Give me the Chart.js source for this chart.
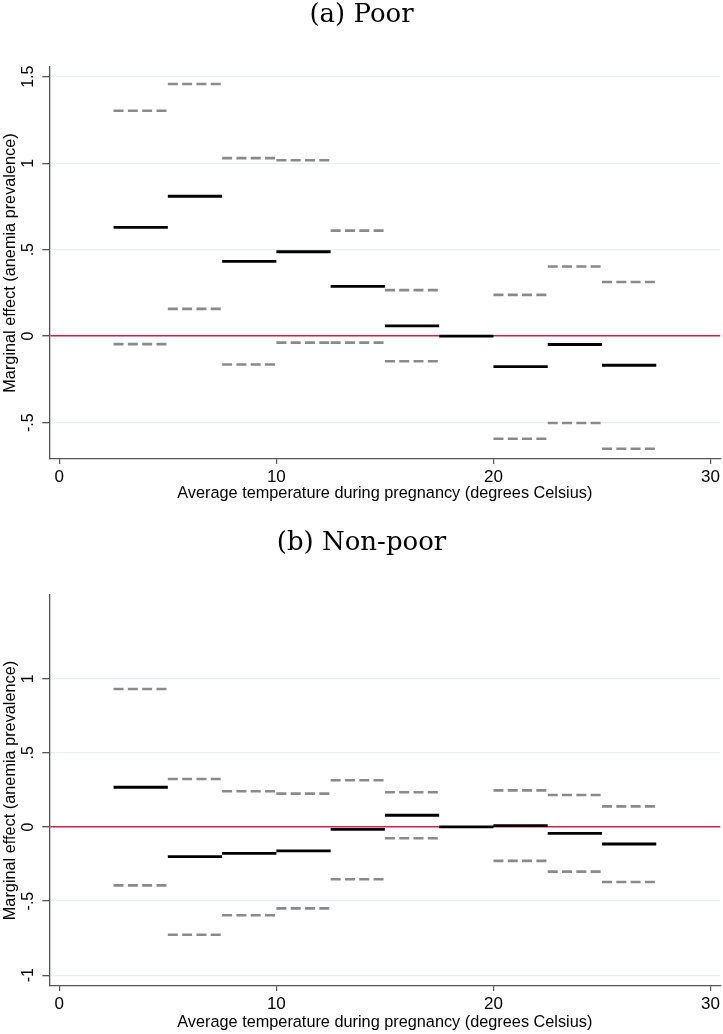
<!DOCTYPE html>
<html>
<head>
<meta charset="utf-8">
<script src="https://cdn.jsdelivr.net/npm/chart.js@4"></script>
<style>
  html, body { margin: 0; padding: 0; background: #fff; }
  canvas { display: block; }
</style>
</head>
<body>
<canvas id="chartPoor" width="723" height="528"></canvas>
<canvas id="chartNonpoor" width="723" height="506"></canvas>
<script>
/* ==== Data ==== */
// temperature bins (degrees Celsius), 17.5-20 is the reference bin
const binEdges = [2.5, 5, 7.5, 10, 12.5, 15, 17.5, 20, 22.5, 25, 27.5];

const poorEst   = [0.629, 0.809, 0.432, 0.488, 0.288, 0.060, 0, -0.176, -0.048, -0.168];
const poorHigh  = [1.303, 1.458, 1.029, 1.017, 0.610, 0.266, null, 0.239, 0.403, 0.313];
const poorLow   = [-0.046, 0.158, -0.164, -0.037, -0.037, -0.145, null, -0.593, -0.502, -0.651];

const nonpoorEst  = [0.268, -0.200, -0.178, -0.162, -0.016, 0.079, 0, 0.009, -0.043, -0.115];
const nonpoorHigh = [0.931, 0.324, 0.241, 0.225, 0.315, 0.234, null, 0.247, 0.216, 0.139];
const nonpoorLow  = [-0.394, -0.727, -0.596, -0.549, -0.353, -0.076, null, -0.229, -0.301, -0.371];

const xTicks = [0, 10, 20, 30];
const poorYTicks = [-0.5, 0, 0.5, 1, 1.5];
const nonpoorYTicks = [-1, -0.5, 0, 0.5, 1];

/* ==== Helpers ==== */
const SANS = '"Liberation Sans", Arial, Helvetica, sans-serif';

function fmtY(v){ return String(v).replace('0.', '.'); }

// each bin becomes a flat step, gaps between bins via null
function steps(vals){
  const pts = [];
  vals.forEach((v, i) => {
    pts.push({x: binEdges[i], y: v}, {x: binEdges[i+1], y: v}, {x: binEdges[i+1], y: null});
  });
  return pts;
}

// Stata-style rotated y tick labels
const yLabels = {
  id: 'yLabels',
  afterDraw(chart){
    const s = chart.scales.y, ctx = chart.ctx;
    ctx.save();
    ctx.font = '16px ' + SANS;
    ctx.fillStyle = '#000';
    ctx.textAlign = 'center';
    ctx.textBaseline = 'middle';
    s.ticks.forEach(t => {
      ctx.save();
      ctx.translate(s.right - 21, s.getPixelForValue(t.value));
      ctx.rotate(-Math.PI / 2);
      ctx.fillText(fmtY(t.value), 0, 0);
      ctx.restore();
    });
    ctx.restore();
  }
};

function drawPanel(id, title, est, high, low, yTicks, yMin, yMax, xHeight, xTitlePad){
  const ctx = document.getElementById(id).getContext('2d');
  return new Chart(ctx, {
    type: 'line',
    data: {
      datasets: [
        { data: steps(est), borderColor: '#000', borderWidth: 2.8 },
        { data: steps(high), borderColor: '#8a8a8a', borderWidth: 2.6, borderDash: [10, 4.3] },
        { data: steps(low), borderColor: '#8a8a8a', borderWidth: 2.6, borderDash: [10, 4.3] }
      ].map(d => Object.assign(d, { pointRadius: 0, spanGaps: false, tension: 0, borderCapStyle: 'butt', fill: false }))
    },
    options: {
      responsive: false,
      animation: false,
      devicePixelRatio: 1,
      layout: { padding: 0 },
      plugins: {
        legend: { display: false },
        tooltip: { enabled: false },
        title: {
          display: true, text: title, color: '#000',
          font: { family: '"DejaVu Serif", serif', size: 26, weight: 'normal' },
          padding: { top: 0, bottom: 35.8 }
        }
      },
      scales: {
        x: {
          type: 'linear', min: -0.46, max: 30.45,
          afterBuildTicks: s => { s.ticks = xTicks.map(v => ({value: v})); },
          afterFit: s => { s.height = xHeight; },
          ticks: { color: '#000', font: { family: SANS, size: 17 }, padding: 3, maxRotation: 0, includeBounds: false },
          grid: { drawOnChartArea: false, drawTicks: true, tickLength: 5, color: '#555', lineWidth: 1.2 },
          border: { color: '#555', width: 1.3 },
          title: {
            display: true, text: 'Average temperature during pregnancy (degrees Celsius)',
            color: '#000', font: { family: SANS, size: 16.3 }, padding: { top: 0, bottom: xTitlePad }
          }
        },
        y: {
          type: 'linear', min: yMin, max: yMax,
          afterBuildTicks: s => { s.ticks = yTicks.map(v => ({value: v})); },
          afterFit: s => { s.width = 49.3; },
          ticks: { display: false, includeBounds: false },
          grid: {
            color: c => c.tick && c.tick.value === 0 ? '#c8234b' : '#e9f0f1',
            lineWidth: c => c.tick && c.tick.value === 0 ? 1.4 : 1.3,
            tickColor: '#555', tickLength: 7, drawTicks: true
          },
          border: { color: '#555', width: 1.3 },
          title: {
            display: true, text: 'Marginal effect (anemia prevalence)',
            color: '#000', font: { family: SANS, size: 16.3 }, padding: { top: 0.5, bottom: 0 }
          }
        }
      }
    },
    plugins: [yLabels]
  });
}

drawPanel('chartPoor', '(a) Poor', poorEst, poorHigh, poorLow, poorYTicks, -0.71, 1.556, 69, 24.4);
drawPanel('chartNonpoor', '(b) Non-poor', nonpoorEst, nonpoorHigh, nonpoorLow, nonpoorYTicks, -1.073, 1.565, 48, 1.4);
</script>
</body>
</html>
